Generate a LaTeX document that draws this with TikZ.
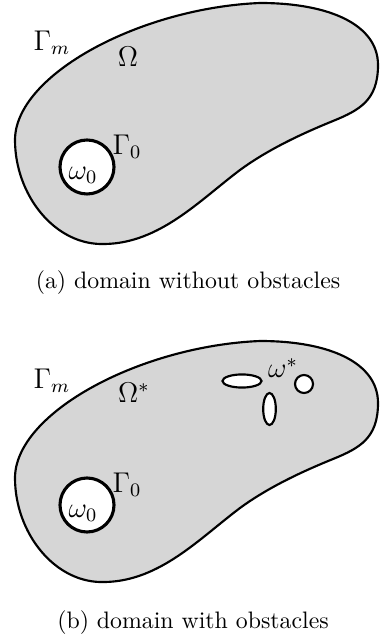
\documentclass[tikz,border=0pt]{standalone}
\usepackage{amsmath}
\begin{document}
\begin{tikzpicture}[x=0.42pt,y=-0.42pt,
  regionshape/.style={draw=black,line width=0.9pt,fill=regfill},
  hole/.style={draw=black,line width=1.3pt,fill=white},
  obst/.style={draw=black,line width=0.9pt,fill=white},
  lab/.style={inner sep=0pt,font=\fontsize{11.5}{13}\selectfont},
  captext/.style={inner sep=0pt,font=\fontsize{10}{12}\selectfont}]
\definecolor{regfill}{RGB}{214,214,214}
\useasboundingbox (0,0) rectangle (383,640);
\newcommand{\domainpath}{(105,244)
  .. controls (55,246) and (15,195) .. (15,140)
  .. controls (15,75) and (140,8) .. (260,3)
  .. controls (330,3) and (378,25) .. (378,65)
  .. controls (378,100) and (360,110) .. (333,121)
  .. controls (306,132) and (270,148) .. (240,170)
  .. controls (200,200) and (160,243) .. (105,244) -- cycle}
% panel (a)
\draw[regionshape] \domainpath;
\draw[hole] (87,167) circle[radius=11.34pt];
\node[lab] (gma) at (52,43) {$\Gamma_m$};
\node[lab] (oma) at (128,57) {$\Omega$};
\node[lab] (g0a) at (127,147) {$\Gamma_0$};
\node[lab] (w0a) at (83,175) {$\omega_0$};
\node[captext] (capa) at (188,283) {(a) domain without obstacles};
% panel (b)
\begin{scope}[shift={(0,338)}]
\draw[regionshape] \domainpath;
\draw[hole] (87,167) circle[radius=11.34pt];
\draw[obst] (242,43) ellipse[x radius=8.2pt,y radius=2.75pt];
\draw[obst] (269.5,71) ellipse[x radius=2.65pt,y radius=6.72pt];
\draw[obst] (304,46) circle[radius=3.78pt];
\node[lab] (gmb) at (52,43) {$\Gamma_m$};
\node[lab] (omb) at (134,55) {$\Omega^*$};
\node[lab] (g0b) at (127,147) {$\Gamma_0$};
\node[lab] (w0b) at (83,175) {$\omega_0$};
\node[lab] (wsb) at (283,30) {$\omega^*$};
\node[captext] (capb) at (193,285) {(b) domain with obstacles};
\end{scope}
\end{tikzpicture}
\end{document}
